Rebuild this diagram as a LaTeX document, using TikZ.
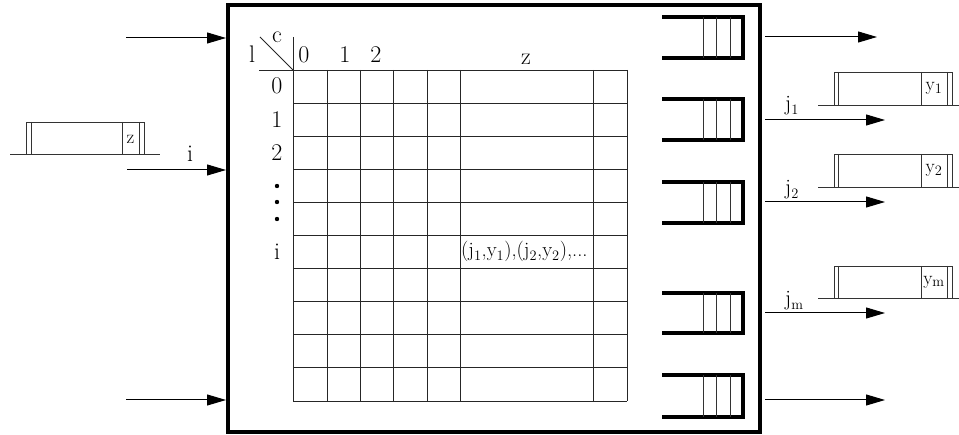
\documentclass[tikz,border=0pt]{standalone}
\usetikzlibrary{arrows.meta}
\begin{document}
\begin{tikzpicture}[x=1pt,y=-1pt,
  gridline/.style={line width=0.9pt,black!85},
  thinline/.style={line width=0.8pt,black!80},
  qline/.style={line width=3.5pt,line join=miter},
  flowarrow/.style={line width=1pt,-{Triangle[length=19pt,width=11pt]}},
  lab/.style={font=\fontsize{24}{28}\selectfont,inner sep=0pt,anchor=base},
  slab/.style={font=\fontsize{22}{24}\selectfont,inner sep=0pt,anchor=base west},
  clab/.style={font=\fontsize{19}{21}\selectfont,inner sep=0pt}]
\useasboundingbox (0,0) rectangle (959,435);
% main box
\node[draw,line width=4pt,minimum width=532pt,minimum height=427pt,inner sep=0pt] (box) at (494,218.5) {};
% grid
\foreach \x in {293,327,360,393,427,460,593,627}
  \draw[gridline] (\x,70) -- (\x,401);
\foreach \k in {0,...,10}
  \draw[gridline] (293,70+33.1*\k) -- (627,70+33.1*\k);
\draw[gridline] (259,70) -- (293,70);
\draw[gridline] (293,37) -- (293,70);
\draw[gridline] (260,37) -- (293,70);
% header labels
\node[lab] (lc) at (277,43) {c};
\node[lab] (ll) at (252,63) {l};
\node[lab] (h0) at (304,63) {0};
\node[lab] (h1) at (345,63) {1};
\node[lab] (h2) at (376,63) {2};
\node[lab] (hz) at (526,65) {z};
\node[lab] (r0) at (277,94) {0};
\node[lab] (r1) at (277,127.1) {1};
\node[lab] (r2) at (277,160.2) {2};
\node[lab] (ri) at (277,259.5) {i};
\foreach \y/\n in {186/d1,202/d2,219/d3}
  \fill (277,\y) circle (2.2pt);
\node[clab,anchor=base west,font=\fontsize{20.5}{22}\selectfont] (cell) at (461,257) {(j$_1$,y$_1$),(j$_2$,y$_2$),...};
% queues
\foreach \t/\b in {17/58,99/140,182/223,293/333,375/417}{
  \draw[qline] (662,\t) -- (743,\t) -- (743,\b) -- (662,\b);
  \foreach \x in {703,716,730}
    \draw[thinline] (\x,\t) -- (\x,\b);
}
% left input arrows
\coordinate (in1) at (126,38);
\coordinate (in2) at (127,170);
\coordinate (in3) at (126,400);
\draw[flowarrow] (in1) -- (box.west |- in1);
\draw[flowarrow] (in2) -- (box.west |- in2);
\draw[flowarrow] (in3) -- (box.west |- in3);
\node[lab] (li) at (190,162) {i};
% left packet
\draw[thinline] (10,154) -- (160,154);
\draw[thinline] (26,154) -- (26,122) -- (144,122) -- (144,154);
\foreach \x in {31,122,139} \draw[thinline] (\x,122) -- (\x,154);
\node[clab] (pz) at (130.5,139) {z};
% right output arrows
\coordinate (o1) at (877,37);
\coordinate (o2) at (885,120);
\coordinate (o3) at (885,202);
\coordinate (o4) at (885,313);
\coordinate (o5) at (885,400);
\foreach \o in {o1,o2,o3,o4,o5}
  \draw[flowarrow] (box.east |- \o) ++(3,0) -- (\o);
\node[slab] (j1) at (785,111) {j$_1$};
\node[slab] (j2) at (785,195) {j$_2$};
\node[slab] (jm) at (785,306) {j$_\mathrm{m}$};
% right packets
\foreach \t/\b/\lbl in {72/105/1,154/187/2,266/298/\mathrm{m}}{
  \draw[thinline] (818,\b) -- (959,\b);
  \draw[thinline] (834,\b) -- (834,\t) -- (952,\t) -- (952,\b);
  \foreach \x in {838,921,947} \draw[thinline] (\x,\t) -- (\x,\b);
  \node[clab] at (934,{(\t+\b)/2}) {y$_{\lbl}$};
}
\end{tikzpicture}
\end{document}
